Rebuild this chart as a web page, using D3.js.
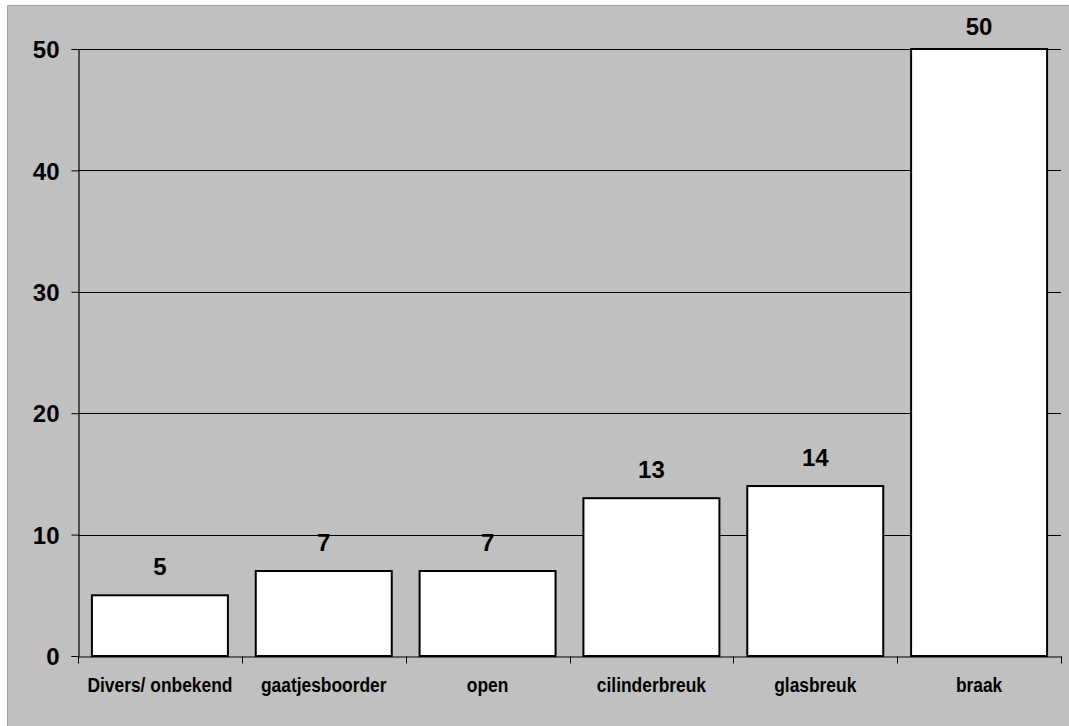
<!DOCTYPE html>
<html>
<head>
<meta charset="utf-8">
<script src="https://cdn.jsdelivr.net/npm/d3@7"></script>
<style>
  html, body { margin: 0; padding: 0; background: #fff; }
  svg { display: block; }
  text { font-family: "Liberation Sans", Arial, sans-serif; font-weight: bold; fill: #000; }
</style>
</head>
<body>
<svg id="chart" width="1069" height="726"></svg>
<script>
const categories = ["Divers/ onbekend", "gaatjesboorder", "open", "cilinderbreuk", "glasbreuk", "braak"];
const values = [5, 7, 7, 13, 14, 50];
const yTicks = [0, 10, 20, 30, 40, 50];

const W = 1069, H = 726;
const margin = { left: 78, right: 8, top: 49, bottom: 70 };
const svg = d3.select("#chart");

// outer frame
svg.append("rect")
  .attr("x", 7.5).attr("y", 5.5)
  .attr("width", W + 20).attr("height", H + 20)
  .attr("fill", "#c0c0c0").attr("stroke", "#a0a0a0").attr("stroke-width", 1);

const x = d3.scaleBand()
  .domain(categories)
  .range([margin.left, W - margin.right])
  .paddingInner(0.17)
  .paddingOuter(0.085);

const y = d3.scaleLinear()
  .domain([0, 50])
  .range([H - margin.bottom, margin.top]);

const plotRight = W - margin.right;

// gridlines
svg.append("g")
  .selectAll("line")
  .data(yTicks.filter(t => t > 0))
  .join("line")
  .attr("x1", margin.left).attr("x2", plotRight)
  .attr("y1", d => Math.round(y(d)) + 0.5).attr("y2", d => Math.round(y(d)) + 0.5)
  .attr("stroke", "#000").attr("stroke-width", 1);

// y axis
const yAxis = svg.append("g")
  .attr("transform", `translate(${margin.left + 0.5},0)`)
  .call(d3.axisLeft(y).tickValues(yTicks).tickSize(7).tickPadding(12).tickFormat(d3.format("d")));
yAxis.select(".domain").attr("stroke", "#000").attr("stroke-width", 1.2);
yAxis.selectAll(".tick line").attr("stroke", "#000");
yAxis.selectAll(".tick text")
  .attr("font-size", 24).attr("font-family", "Liberation Sans, Arial, sans-serif")
  .attr("font-weight", "bold").attr("fill", "#000").attr("dy", "0.36em");

// bars
svg.append("g")
  .selectAll("rect")
  .data(values)
  .join("rect")
  .attr("x", (d, i) => x(categories[i]))
  .attr("y", d => y(d))
  .attr("width", x.bandwidth())
  .attr("height", d => y(0) - y(d))
  .attr("fill", "#fff")
  .attr("stroke", "#000")
  .attr("stroke-width", 2);

// x axis
const xAxis = svg.append("g")
  .attr("transform", `translate(0,${Math.round(y(0)) + 0.5})`)
  .call(d3.axisBottom(x).tickSize(0).tickPadding(0));
xAxis.select(".domain").attr("stroke", "#000").attr("stroke-width", 1.2);
xAxis.selectAll(".tick text").remove();

// category separator ticks
const step = x.step();
const tickXs = d3.range(categories.length + 1).map(i => margin.left + i * step);
xAxis.append("g").selectAll("line")
  .data(tickXs)
  .join("line")
  .attr("x1", d => Math.round(d) + 0.5).attr("x2", d => Math.round(d) + 0.5)
  .attr("y1", 0).attr("y2", 7)
  .attr("stroke", "#000").attr("stroke-width", 1);

// category labels
svg.append("g")
  .selectAll("text")
  .data(categories)
  .join("text")
  .attr("transform", d => `translate(${x(d) + x.bandwidth() / 2},${y(0) + 36}) scale(0.87,1)`)
  .attr("text-anchor", "middle")
  .attr("font-size", 20)
  .text(d => d);

// value labels
svg.append("g")
  .selectAll("text")
  .data(values)
  .join("text")
  .attr("x", (d, i) => x(categories[i]) + x.bandwidth() / 2)
  .attr("y", d => Math.max(y(d) - 20, 35))
  .attr("text-anchor", "middle")
  .attr("font-size", 24)
  .text(d => d);
</script>
</body>
</html>
